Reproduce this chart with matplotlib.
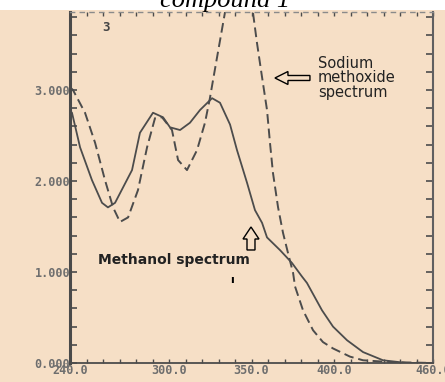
import matplotlib
matplotlib.use("Agg")
import matplotlib.pyplot as plt
from matplotlib.patches import FancyArrow, Rectangle
from matplotlib.ticker import MultipleLocator

# Methanol spectrum (solid), wavelength nm vs absorbance
methanol_nm = [240.0, 241.2, 246.1, 253.3, 259.4, 263.0, 267.3, 277.6, 282.4, 290.3,
               296.4, 300.6, 306.7, 312.7, 318.8, 326.1, 330.9, 337.0, 341.2, 347.3,
               352.1, 356.4, 359.4, 367.3, 374.5, 380.6, 383.6, 392.7, 399.4, 407.9,
               417.6, 429.7, 444.2, 460.0]
methanol_abs = [2.77, 2.75, 2.37, 2.01, 1.76, 1.71, 1.76, 2.12, 2.53, 2.75,
                2.70, 2.59, 2.56, 2.64, 2.78, 2.91, 2.86, 2.62, 2.34, 1.98,
                1.68, 1.54, 1.38, 1.24, 1.10, 0.95, 0.88, 0.58, 0.40, 0.25,
                0.12, 0.03, 0.00, 0.00]

# Sodium methoxide spectrum (dashed); the band top runs off the scale
methoxide_nm = [240.0, 241.8, 249.1, 255.2, 261.2, 266.1, 270.3, 275.2, 281.2, 286.7,
                291.5, 295.8, 301.8, 305.5, 310.9, 317.0, 321.8, 324.8, 326.7, 333.9,
                342.0, 350.9, 353.3, 356.4, 359.4, 361.2, 363.0, 366.1, 369.1, 372.1,
                375.2, 376.4, 381.2, 387.3, 393.3, 399.4, 409.7, 417.6, 433.9, 460.0]
methoxide_abs = [3.03, 3.00, 2.75, 2.42, 2.01, 1.71, 1.55, 1.60, 1.90, 2.37,
                 2.69, 2.70, 2.56, 2.23, 2.12, 2.34, 2.64, 2.91, 3.11, 3.85,
                 4.40, 3.85, 3.52, 3.14, 2.78, 2.42, 2.09, 1.71, 1.43, 1.21,
                 0.99, 0.84, 0.58, 0.36, 0.23, 0.16, 0.07, 0.03, 0.01, 0.00]

xtick_vals = [240, 300, 350, 400, 460]
xtick_labels = ["240.0", "300.0", "350.0", "400.0", "460.0"]
ytick_vals = [0, 1, 2, 3]
ytick_labels = ["0.000", "1.000", "2.000", "3.000"]

paper = "#f6dfc6"
ink = "#4c4c4c"

fig = plt.figure(figsize=(4.45, 3.82), dpi=100, facecolor=paper)
ax = fig.add_axes([70 / 445, 19 / 382, 363 / 445, 351 / 382])
ax.set_facecolor(paper)

# white strip at the very top with the cut-off caption
fig.patches.append(Rectangle((0, 372 / 382), 1, 10 / 382, transform=fig.transFigure,
                             facecolor="white", edgecolor="none", zorder=0))
fig.text(225 / 445, 375.5 / 382, "compound 1", ha="center", va="baseline",
         fontsize=19, style="italic", family="Liberation Serif", color="black")

ax.plot(methanol_nm, methanol_abs, color=ink, lw=1.3)
ax.plot(methoxide_nm, methoxide_abs, color=ink, lw=1.4, dashes=(5, 2.5))

ax.set_xlim(240, 460)
ax.set_ylim(0, 3.857)
ax.set_xticks(xtick_vals)
ax.set_xticklabels(xtick_labels)
ax.set_yticks(ytick_vals)
ax.set_yticklabels(ytick_labels)
ax.xaxis.set_minor_locator(MultipleLocator(10))
ax.yaxis.set_minor_locator(MultipleLocator(0.2))
ax.tick_params(which="both", direction="in", top=True, right=True, color=ink)
ax.tick_params(axis="y", which="both", length=5, width=1.2)
ax.tick_params(axis="x", which="both", length=3, width=1)
ax.tick_params(axis="y", pad=0, labelsize=8.5, labelcolor="#6e6e6e")
ax.tick_params(axis="x", pad=1, labelsize=8.5, labelcolor="#6e6e6e")
for lab in ax.get_xticklabels() + ax.get_yticklabels():
    lab.set_family("DejaVu Sans Mono")
    lab.set_fontweight("bold")

ax.spines["left"].set_linewidth(2.2)
ax.spines["left"].set_color("#4a4a4a")
ax.spines["bottom"].set_linewidth(1.3)
ax.spines["bottom"].set_color(ink)
ax.spines["right"].set_linewidth(1.5)
ax.spines["right"].set_color("#606060")
ax.spines["top"].set_linewidth(1)
ax.spines["top"].set_color("#8a8a8a")
ax.spines["top"].set_linestyle((0, (3, 4)))

# panel number and annotations
ax.text(0.1, 0.957, "3", transform=ax.transAxes, ha="center", va="center",
        fontsize=9, fontweight="bold", family="DejaVu Sans Mono", color="#444444")
ax.text(0.683, 0.812, "Sodium\nmethoxide\nspectrum", transform=ax.transAxes,
        ha="left", va="center", fontsize=10.5, linespacing=0.95, color="#222222")
ax.add_patch(FancyArrow(0.661, 0.812, -0.0964, 0, width=0.0142, head_width=0.037,
                        head_length=0.0358, length_includes_head=True,
                        transform=ax.transAxes, fill=False, ec="black", lw=1))
ax.text(0.0771, 0.293, "Methanol spectrum", transform=ax.transAxes,
        ha="left", va="center", fontsize=10, fontweight="bold", color="#222222")
ax.add_patch(FancyArrow(0.4986, 0.322, 0, 0.0655, width=0.022, head_width=0.044,
                        head_length=0.0342, length_includes_head=True,
                        transform=ax.transAxes, fill=False, ec="black", lw=1))
ax.text(0.446, 0.236, "ı", transform=ax.transAxes, ha="center", va="center",
        fontsize=8, fontweight="bold", color="black")

fig.savefig("out.png", dpi=100, facecolor=paper)
